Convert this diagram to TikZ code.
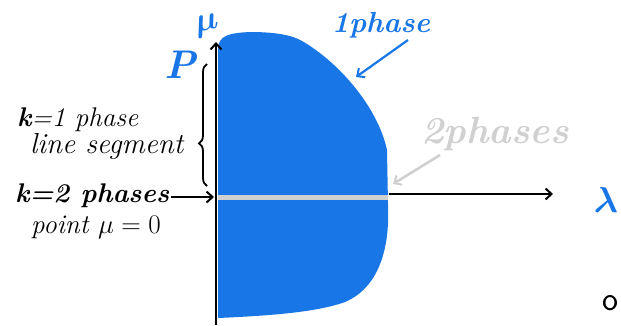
\RequirePackage{fix-cm}
\documentclass[tikz,border=0pt]{standalone}
\usepackage{amsmath,amssymb,bm}
\usetikzlibrary{arrows.meta,decorations.pathreplacing}
\definecolor{blobblue}{RGB}{24,118,230}
\definecolor{phgray}{RGB}{208,208,208}
\tikzset{
  hand/.style={font=\itshape\fontsize{27}{28}\selectfont, inner sep=0pt},
  bluelbl/.style={text=blobblue, font=\itshape\bfseries\fontsize{29}{29}\selectfont, inner sep=0pt},
  tip/.style={-{Straight Barb[length=6pt,width=11pt,line width=2pt]}},
  axis/.style={line width=2.4pt, tip},
  pointer/.style={line width=2.4pt, tip}
}
\begin{document}
\begin{tikzpicture}[x=1pt,y=-1pt]
\useasboundingbox (0,0) rectangle (621,325);
% blob (one-phase region)
\fill[blobblue] (218,48) .. controls (219,36) and (228,33) .. (250,32)
  .. controls (275,32) and (292,35) .. (302,41)
  .. controls (340,63) and (378,108) .. (387,150)
  -- (388,205)
  .. controls (390,250) and (378,288) .. (345,302)
  .. controls (315,313) and (262,316) .. (218,318) -- cycle;
% two-phase line
\draw[phgray, line width=5pt] (218,197) -- (388,197);
% axes
\coordinate (o) at (214,197);
\coordinate (ytop) at (216,42);
\coordinate (ybot) at (216,325);
\coordinate (xend) at (553,194);
\coordinate (xst) at (389,194);
\draw[axis] (ybot) -- (ytop);
\draw[axis] (xst) -- (xend);
% axis labels
\node[text=blobblue, inner sep=0pt, rotate=12, font=\fontsize{34}{34}\selectfont] (mu) at (207,26) {$\bm{\mu}$};
\node[bluelbl, font=\itshape\bfseries\fontsize{40}{40}\selectfont] (P) at (180,65) {P};
\node[text=blobblue, inner sep=0pt, font=\fontsize{36}{36}\selectfont] (lam) at (606,200) {$\bm{\lambda}$};
\node[font=\sffamily\fontsize{34}{34}\selectfont, inner sep=0pt] (ord) at (610,303) {o};
% brace
\draw[line width=1.8pt, decorate, decoration={brace, amplitude=8pt, aspect=0.35}] (207,186) -- (207,64);
% left labels
\node[hand, anchor=west] (k1) at (17,120) {\textbf{k}=1 phase};
\node[hand, anchor=west, font=\itshape\fontsize{29}{30}\selectfont] (ls) at (30,146) {line segment};
\node[hand, anchor=west, font=\itshape\bfseries\fontsize{27}{28}\selectfont] (k2) at (15,196) {k=2 phases};
\node[hand, anchor=west] (pt) at (31,227) {point $\mu=0$};
\coordinate (k2e) at (k2.east |- o);
\draw[pointer] ([xshift=2pt]k2e) -- (o);
% top right labels
\node[bluelbl] (one) at (381,25) {1phase};
\coordinate (onetip) at (356,77);
\draw[blobblue, line width=2.2pt, tip] (408,40) -- (onetip);
\node[text=phgray, font=\itshape\bfseries\fontsize{38}{38}\selectfont, inner sep=0pt] (two) at (495,134) {2phases};
\coordinate (twotip) at (393,184);
\draw[phgray, line width=2.6pt, tip] (440,155) -- (twotip);
\end{tikzpicture}
\end{document}
